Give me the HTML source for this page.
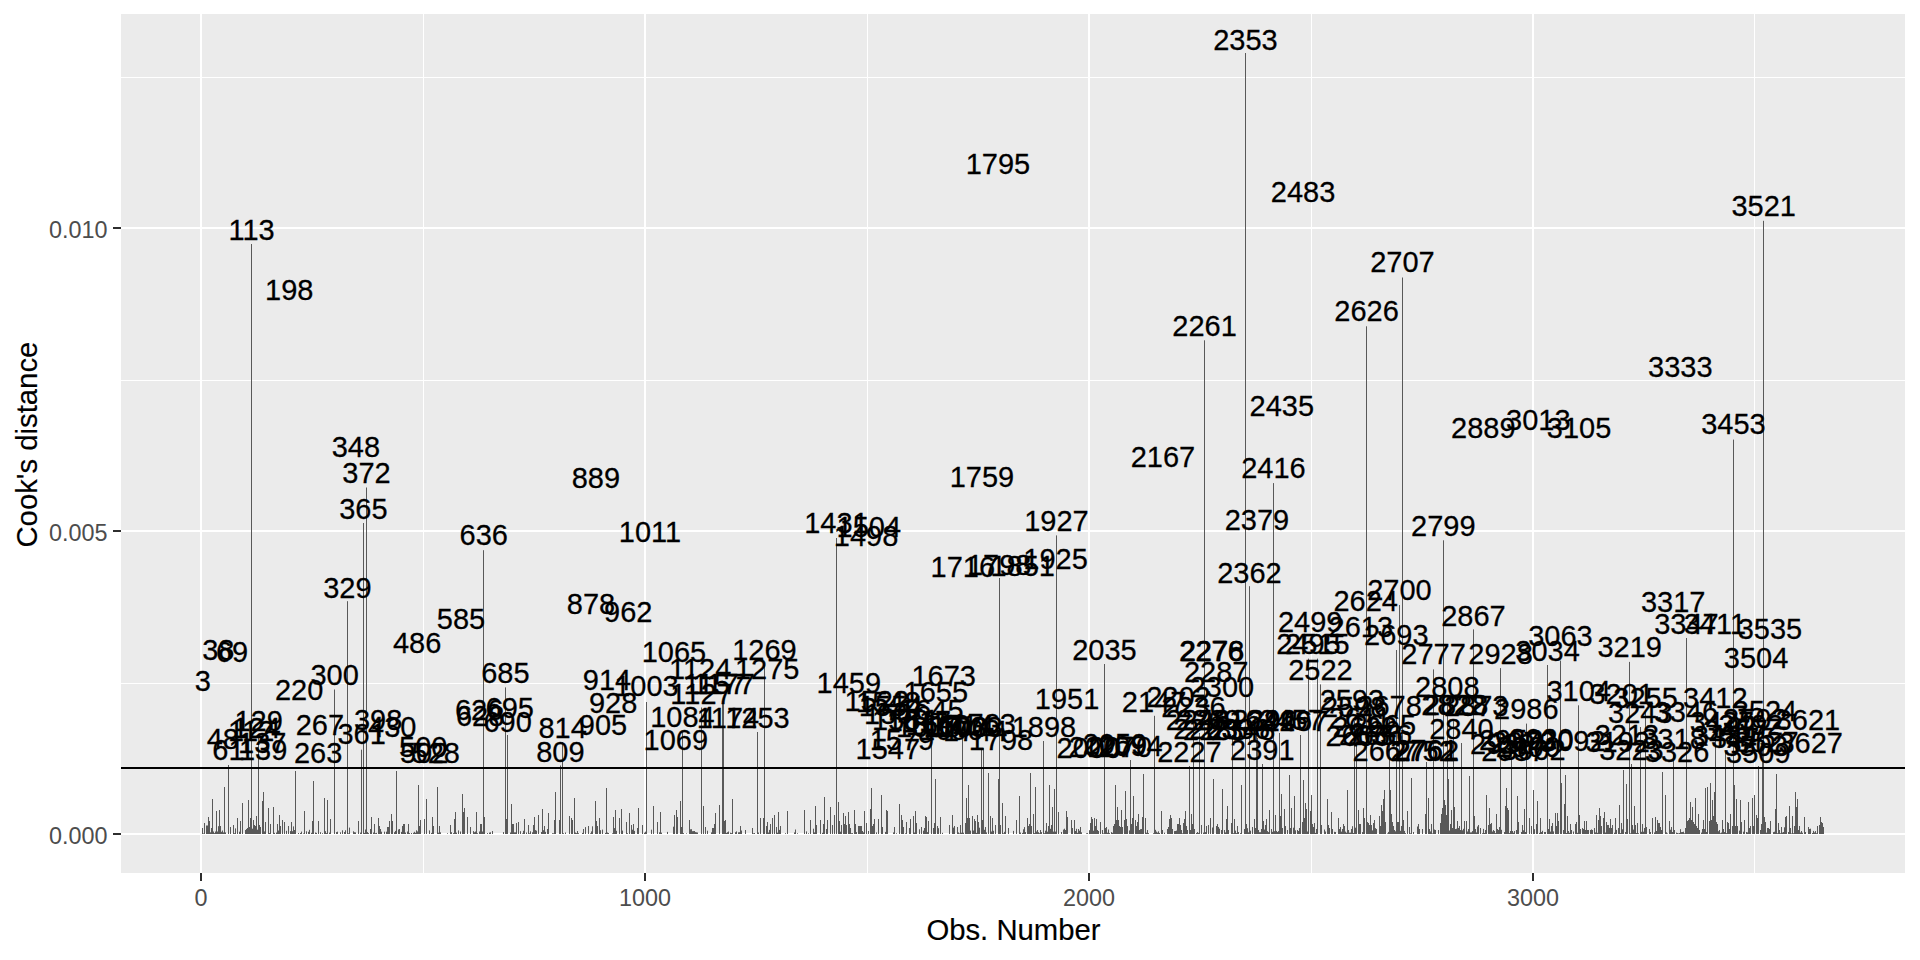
<!DOCTYPE html>
<html><head><meta charset="utf-8"><title>Cook's distance</title>
<style>html,body{margin:0;padding:0;background:#fff;}svg{display:block;}text{font-family:"Liberation Sans",sans-serif;}</style></head><body>
<svg width="1920" height="960" viewBox="0 0 1920 960">
<rect x="0" y="0" width="1920" height="960" fill="#FFFFFF"/>
<rect x="121" y="14" width="1784" height="859" fill="#EBEBEB"/>
<line x1="121" x2="1905" y1="77.5" y2="77.5" stroke="#FFFFFF" stroke-width="1"/>
<line x1="121" x2="1905" y1="380.5" y2="380.5" stroke="#FFFFFF" stroke-width="1"/>
<line x1="121" x2="1905" y1="683.5" y2="683.5" stroke="#FFFFFF" stroke-width="1"/>
<line y1="14" y2="873" x1="423.5" x2="423.5" stroke="#FFFFFF" stroke-width="1"/>
<line y1="14" y2="873" x1="867.5" x2="867.5" stroke="#FFFFFF" stroke-width="1"/>
<line y1="14" y2="873" x1="1311.5" x2="1311.5" stroke="#FFFFFF" stroke-width="1"/>
<line y1="14" y2="873" x1="1754.5" x2="1754.5" stroke="#FFFFFF" stroke-width="1"/>
<line x1="121" x2="1905" y1="834" y2="834" stroke="#FFFFFF" stroke-width="2"/>
<line x1="121" x2="1905" y1="531" y2="531" stroke="#FFFFFF" stroke-width="2"/>
<line x1="121" x2="1905" y1="228" y2="228" stroke="#FFFFFF" stroke-width="2"/>
<line y1="14" y2="873" x1="201" x2="201" stroke="#FFFFFF" stroke-width="2"/>
<line y1="14" y2="873" x1="645" x2="645" stroke="#FFFFFF" stroke-width="2"/>
<line y1="14" y2="873" x1="1089" x2="1089" stroke="#FFFFFF" stroke-width="2"/>
<line y1="14" y2="873" x1="1533" x2="1533" stroke="#FFFFFF" stroke-width="2"/>
<path d="M251 244.0V834.0 M334 689.5V834.0 M347 601.2V834.0 M361 749.7V834.0 M363 523.0V834.0 M366 487.5V834.0 M228 765.0V834.0 M258 735.0V834.0 M483 550.2V834.0 M505 687.4V834.0 M507 735.0V834.0 M562 742.0V834.0 M560 765.5V834.0 M646 702.0V834.0 M682 731.0V834.0 M701 707.5V834.0 M723 698.0V834.0 M757 732.0V834.0 M764 664.6V834.0 M836 538.0V834.0 M931 722.0V834.0 M962 735.0V834.0 M999 578.0V834.0 M1043 741.0V834.0 M1056 535.4V834.0 M1104 664.0V834.0 M1130 760.0V834.0 M1154 715.8V834.0 M1204 340.3V834.0 M1245 53.0V834.0 M1249 586.2V834.0 M1273 483.1V834.0 M1366 326.3V834.0 M1399 605.0V834.0 M1396 650.0V834.0 M1402 277.5V834.0 M1443 540.3V834.0 M1433 669.4V834.0 M1473 629.4V834.0 M1500 668.1V834.0 M1547 665.0V834.0 M1560 660.6V834.0 M1629 661.9V834.0 M1686 638.0V834.0 M1733 439.6V834.0 M1763 220.8V834.0 M1193 722.0V834.0 M1279 733.0V834.0 M1308 658.6V834.0 M1317 658.6V834.0 M1320 684.4V834.0 M1354 721.0V834.0 M1356 726.0V834.0 M1389 720.0V834.0 M1426 762.0V834.0 M1447 701.8V834.0 M1461 743.0V834.0 M1453 719.0V834.0 M1511 754.0V834.0 M1526 723.6V834.0 M1578 705.3V834.0 M1640 727.0V834.0 M1645 712.0V834.0 M1673 753.0V834.0 M1715 712.0V834.0 M1725 750.0V834.0 M1758 766.0V834.0 M1262 764.0V834.0 M983 748.0V834.0 M1189 766.0V834.0 M1256 735.0V834.0 M1232 735.0V834.0 M1300 735.0V834.0 M1199 733.0V834.0 M722 703.0V834.0 M981 748.0V834.0 M1631 764.0V834.0 M1762 745.0V834.0 M1257 738.0V834.0 M212 799.0V834.0 M216 811.0V834.0 M219 810.0V834.0 M224 787.0V834.0 M242 803.0V834.0 M248 800.0V834.0 M262 801.0V834.0 M263 792.0V834.0 M268 808.0V834.0 M273 807.0V834.0 M295 771.0V834.0 M304 811.0V834.0 M313 781.0V834.0 M324 798.0V834.0 M327 800.0V834.0 M208 817.0V834.0 M237 818.0V834.0 M250 818.0V834.0 M256 816.0V834.0 M279 815.0V834.0 M282 820.0V834.0 M312 821.0V834.0 M318 821.0V834.0 M330 819.0V834.0 M358 821.0V834.0 M202 828.0V834.0 M204 823.0V834.0 M206 825.5V834.0 M207 825.5V834.0 M209 821.0V834.0 M211 828.0V834.0 M233 827.0V834.0 M233 825.0V834.0 M240 821.0V834.0 M254 825.0V834.0 M259 825.0V834.0 M260 827.0V834.0 M265 822.0V834.0 M270 824.0V834.0 M277 824.0V834.0 M284 822.0V834.0 M288 826.0V834.0 M291 822.0V834.0 M245 830.0V834.0 M246 829.0V834.0 M247 828.0V834.0 M249 827.0V834.0 M251 818.0V834.0 M253 820.0V834.0 M255 826.0V834.0 M396 771.0V834.0 M418 785.0V834.0 M426 799.0V834.0 M437 787.0V834.0 M455 812.0V834.0 M462 794.0V834.0 M464 808.0V834.0 M476 812.0V834.0 M511 804.0V834.0 M371 817.0V834.0 M374 824.0V834.0 M378 818.0V834.0 M389 821.0V834.0 M391 814.0V834.0 M392 821.0V834.0 M403 824.0V834.0 M404 824.0V834.0 M402 826.0V834.0 M408 824.0V834.0 M420 820.0V834.0 M424 819.0V834.0 M432 817.0V834.0 M433 826.0V834.0 M450 825.0V834.0 M454 819.0V834.0 M463 812.0V834.0 M467 817.0V834.0 M480 824.0V834.0 M481 824.0V834.0 M484 817.0V834.0 M506 819.0V834.0 M512 824.0V834.0 M513 824.0V834.0 M516 823.0V834.0 M518 822.0V834.0 M370 829.0V834.0 M387 827.0V834.0 M388 827.0V834.0 M399 829.0V834.0 M524 819.0V834.0 M528 825.0V834.0 M534 817.0V834.0 M533 825.0V834.0 M538 815.0V834.0 M542 809.0V834.0 M548 813.0V834.0 M555 792.0V834.0 M554 820.0V834.0 M559 820.0V834.0 M569 816.0V834.0 M571 818.0V834.0 M572 820.0V834.0 M574 798.0V834.0 M595 801.0V834.0 M596 821.0V834.0 M597 826.0V834.0 M599 818.0V834.0 M606 788.0V834.0 M613 817.0V834.0 M615 810.0V834.0 M619 818.0V834.0 M621 809.0V834.0 M626 822.0V834.0 M629 813.0V834.0 M631 825.0V834.0 M633 824.0V834.0 M638 808.0V834.0 M637 828.0V834.0 M642 825.0V834.0 M653 806.0V834.0 M657 822.0V834.0 M660 812.0V834.0 M674 815.0V834.0 M676 810.0V834.0 M677 817.0V834.0 M548 828.0V834.0 M547 829.0V834.0 M680 801.0V834.0 M681 827.0V834.0 M689 820.0V834.0 M703 806.0V834.0 M705 827.0V834.0 M715 813.0V834.0 M714 824.0V834.0 M719 805.0V834.0 M725 820.0V834.0 M724 821.0V834.0 M732 799.0V834.0 M740 826.0V834.0 M752 828.0V834.0 M760 818.0V834.0 M763 818.0V834.0 M767 822.0V834.0 M766 826.0V834.0 M770 824.0V834.0 M772 818.0V834.0 M774 815.0V834.0 M776 827.0V834.0 M778 812.0V834.0 M787 811.0V834.0 M804 810.0V834.0 M810 820.0V834.0 M815 806.0V834.0 M816 825.0V834.0 M820 820.0V834.0 M824 797.0V834.0 M823 824.0V834.0 M827 820.0V834.0 M830 807.0V834.0 M832 825.0V834.0 M834 815.0V834.0 M838 802.0V834.0 M839 821.0V834.0 M712 828.0V834.0 M713 828.0V834.0 M841 825.0V834.0 M843 813.0V834.0 M844 824.0V834.0 M845 816.0V834.0 M846 825.0V834.0 M848 812.0V834.0 M849 824.0V834.0 M850 828.0V834.0 M854 810.0V834.0 M855 824.0V834.0 M858 826.0V834.0 M859 826.0V834.0 M860 826.0V834.0 M861 826.0V834.0 M864 811.0V834.0 M866 823.0V834.0 M870 809.0V834.0 M871 788.0V834.0 M873 824.0V834.0 M874 819.0V834.0 M878 819.0V834.0 M881 795.0V834.0 M882 827.0V834.0 M886 810.0V834.0 M887 811.0V834.0 M894 827.0V834.0 M899 804.0V834.0 M901 815.0V834.0 M902 820.0V834.0 M903 827.0V834.0 M906 822.0V834.0 M909 828.0V834.0 M910 819.0V834.0 M913 816.0V834.0 M915 811.0V834.0 M916 823.0V834.0 M921 827.0V834.0 M924 828.0V834.0 M925 816.0V834.0 M926 817.0V834.0 M928 821.0V834.0 M934 823.0V834.0 M935 779.0V834.0 M937 826.0V834.0 M940 817.0V834.0 M949 825.0V834.0 M952 815.0V834.0 M957 827.0V834.0 M960 825.0V834.0 M965 823.0V834.0 M966 798.0V834.0 M967 818.0V834.0 M968 785.0V834.0 M969 818.0V834.0 M972 816.0V834.0 M974 819.0V834.0 M975 821.0V834.0 M977 815.0V834.0 M978 822.0V834.0 M982 820.0V834.0 M985 827.0V834.0 M988 773.0V834.0 M990 816.0V834.0 M992 818.0V834.0 M995 825.0V834.0 M998 779.0V834.0 M1000 825.0V834.0 M1002 803.0V834.0 M1005 816.0V834.0 M1008 828.0V834.0 M1016 820.0V834.0 M1019 796.0V834.0 M1027 818.0V834.0 M1028 826.0V834.0 M1029 824.0V834.0 M1030 773.0V834.0 M1031 826.0V834.0 M1033 814.0V834.0 M1035 787.0V834.0 M1037 830.0V834.0 M1040 830.0V834.0 M1046 823.0V834.0 M1048 826.0V834.0 M1049 785.0V834.0 M1051 825.0V834.0 M1052 807.0V834.0 M1054 789.0V834.0 M1058 812.0V834.0 M1061 832.0V834.0 M1065 830.0V834.0 M1066 811.0V834.0 M1067 817.0V834.0 M1071 820.0V834.0 M1072 828.0V834.0 M1074 820.0V834.0 M1075 831.0V834.0 M1078 829.0V834.0 M1080 827.0V834.0 M1090 823.0V834.0 M1091 817.0V834.0 M1092 819.0V834.0 M1094 818.0V834.0 M1095 826.0V834.0 M1096 819.0V834.0 M1097 830.0V834.0 M1100 822.0V834.0 M1102 830.0V834.0 M1106 827.0V834.0 M1113 826.0V834.0 M1114 824.0V834.0 M1115 785.0V834.0 M1116 820.0V834.0 M1117 807.0V834.0 M1118 820.0V834.0 M1119 826.0V834.0 M1120 827.0V834.0 M1121 810.0V834.0 M1122 827.0V834.0 M1124 820.0V834.0 M1125 791.0V834.0 M1126 819.0V834.0 M1127 826.0V834.0 M1131 824.0V834.0 M1132 818.0V834.0 M1133 796.0V834.0 M1135 820.0V834.0 M1137 822.0V834.0 M1138 814.0V834.0 M1139 830.0V834.0 M1141 829.0V834.0 M1142 817.0V834.0 M1143 774.0V834.0 M1145 818.0V834.0 M1147 830.0V834.0 M1161 811.0V834.0 M1162 830.0V834.0 M1167 829.0V834.0 M1168 827.0V834.0 M1169 819.0V834.0 M1170 815.0V834.0 M1171 818.0V834.0 M1172 829.0V834.0 M1175 831.0V834.0 M1177 824.0V834.0 M1178 824.0V834.0 M1179 818.0V834.0 M1180 825.0V834.0 M1181 830.0V834.0 M1183 823.0V834.0 M1184 819.0V834.0 M1185 811.0V834.0 M1186 826.0V834.0 M1187 830.0V834.0 M1189 766.0V834.0 M1190 830.0V834.0 M1191 814.0V834.0 M1192 824.0V834.0 M1194 829.0V834.0 M1197 832.0V834.0 M1201 825.0V834.0 M1206 826.0V834.0 M1208 825.0V834.0 M1210 818.0V834.0 M1213 779.0V834.0 M1216 826.0V834.0 M1217 824.0V834.0 M1218 827.0V834.0 M1221 830.0V834.0 M1222 789.0V834.0 M1224 830.0V834.0 M1226 819.0V834.0 M1227 806.0V834.0 M1228 830.0V834.0 M1231 823.0V834.0 M1234 819.0V834.0 M1237 826.0V834.0 M1241 785.0V834.0 M1244 829.0V834.0 M1246 824.0V834.0 M1252 827.0V834.0 M1254 819.0V834.0 M1255 828.0V834.0 M1258 830.0V834.0 M1261 829.0V834.0 M1263 821.0V834.0 M1265 825.0V834.0 M1266 819.0V834.0 M1269 810.0V834.0 M1271 829.0V834.0 M1275 815.0V834.0 M1277 832.0V834.0 M1280 816.0V834.0 M1281 794.0V834.0 M1282 828.0V834.0 M1284 809.0V834.0 M1287 830.0V834.0 M1289 775.0V834.0 M1290 828.0V834.0 M1291 808.0V834.0 M1294 796.0V834.0 M1297 830.0V834.0 M1299 828.0V834.0 M1302 822.0V834.0 M1303 780.0V834.0 M1304 818.0V834.0 M1305 803.0V834.0 M1306 809.0V834.0 M1310 811.0V834.0 M1311 795.0V834.0 M1312 824.0V834.0 M1313 827.0V834.0 M1314 823.0V834.0 M1316 829.0V834.0 M1321 825.0V834.0 M1327 799.0V834.0 M1328 825.0V834.0 M1329 828.0V834.0 M1331 812.0V834.0 M1332 829.0V834.0 M1335 832.0V834.0 M1338 818.0V834.0 M1339 829.0V834.0 M1340 827.0V834.0 M1342 829.0V834.0 M1343 824.0V834.0 M1347 790.0V834.0 M1348 830.0V834.0 M1351 829.0V834.0 M1358 810.0V834.0 M1359 824.0V834.0 M1360 824.0V834.0 M1363 808.0V834.0 M1364 818.0V834.0 M1367 822.0V834.0 M1368 823.0V834.0 M1369 825.0V834.0 M1370 815.0V834.0 M1371 825.0V834.0 M1373 823.0V834.0 M1374 820.0V834.0 M1376 829.0V834.0 M1379 816.0V834.0 M1380 826.0V834.0 M1381 805.0V834.0 M1382 811.0V834.0 M1383 799.0V834.0 M1384 790.0V834.0 M1385 822.0V834.0 M1390 790.0V834.0 M1391 814.0V834.0 M1392 822.0V834.0 M1393 826.0V834.0 M1394 830.0V834.0 M1397 822.0V834.0 M1398 822.0V834.0 M1401 826.0V834.0 M1403 820.0V834.0 M1407 811.0V834.0 M1409 827.0V834.0 M1411 778.0V834.0 M1413 832.0V834.0 M1418 824.0V834.0 M1419 829.0V834.0 M1422 829.0V834.0 M1425 814.0V834.0 M1428 798.0V834.0 M1429 829.0V834.0 M1431 824.0V834.0 M1435 830.0V834.0 M1438 830.0V834.0 M1440 823.0V834.0 M1441 814.0V834.0 M1442 808.0V834.0 M1444 800.0V834.0 M1445 805.0V834.0 M1446 815.0V834.0 M1448 779.0V834.0 M1450 824.0V834.0 M1451 810.0V834.0 M1452 828.0V834.0 M1454 807.0V834.0 M1455 829.0V834.0 M1457 821.0V834.0 M1458 828.0V834.0 M1460 830.0V834.0 M1464 821.0V834.0 M1466 821.0V834.0 M1468 829.0V834.0 M1469 776.0V834.0 M1474 816.0V834.0 M1475 829.0V834.0 M1478 825.0V834.0 M1480 828.0V834.0 M1485 830.0V834.0 M1486 795.0V834.0 M1488 825.0V834.0 M1489 808.0V834.0 M1490 824.0V834.0 M1491 823.0V834.0 M1493 830.0V834.0 M1494 831.0V834.0 M1496 814.0V834.0 M1497 829.0V834.0 M1498 830.0V834.0 M1499 827.0V834.0 M1504 832.0V834.0 M1505 806.0V834.0 M1506 788.0V834.0 M1507 808.0V834.0 M1508 810.0V834.0 M1512 831.0V834.0 M1514 831.0V834.0 M1516 830.0V834.0 M1517 796.0V834.0 M1518 822.0V834.0 M1521 832.0V834.0 M1522 825.0V834.0 M1524 809.0V834.0 M1525 832.0V834.0 M1529 818.0V834.0 M1531 826.0V834.0 M1533 790.0V834.0 M1536 824.0V834.0 M1536 824.0V834.0 M1537 801.0V834.0 M1540 818.0V834.0 M1541 832.0V834.0 M1545 832.0V834.0 M1548 829.0V834.0 M1549 819.0V834.0 M1551 826.0V834.0 M1552 823.0V834.0 M1555 813.0V834.0 M1556 826.0V834.0 M1557 813.0V834.0 M1558 821.0V834.0 M1561 783.0V834.0 M1563 830.0V834.0 M1564 804.0V834.0 M1565 775.0V834.0 M1567 816.0V834.0 M1568 831.0V834.0 M1570 824.0V834.0 M1571 830.0V834.0 M1575 824.0V834.0 M1576 822.0V834.0 M1579 815.0V834.0 M1580 829.0V834.0 M1582 828.0V834.0 M1583 829.0V834.0 M1584 821.0V834.0 M1585 830.0V834.0 M1586 821.0V834.0 M1587 830.0V834.0 M1588 830.0V834.0 M1590 830.0V834.0 M1592 830.0V834.0 M1594 828.0V834.0 M1596 815.0V834.0 M1598 820.0V834.0 M1599 808.0V834.0 M1600 816.0V834.0 M1601 826.0V834.0 M1603 818.0V834.0 M1604 812.0V834.0 M1606 822.0V834.0 M1607 825.0V834.0 M1608 825.0V834.0 M1610 819.0V834.0 M1611 828.0V834.0 M1612 825.0V834.0 M1615 818.0V834.0 M1618 828.0V834.0 M1619 805.0V834.0 M1621 823.0V834.0 M1623 770.0V834.0 M1625 832.0V834.0 M1626 784.0V834.0 M1627 819.0V834.0 M1632 825.0V834.0 M1634 806.0V834.0 M1635 825.0V834.0 M1637 823.0V834.0 M1640 827.0V834.0 M1642 824.0V834.0 M1644 828.0V834.0 M1649 829.0V834.0 M1650 832.0V834.0 M1652 818.0V834.0 M1655 817.0V834.0 M1656 831.0V834.0 M1657 820.0V834.0 M1658 823.0V834.0 M1659 823.0V834.0 M1660 827.0V834.0 M1661 830.0V834.0 M1662 772.0V834.0 M1665 795.0V834.0 M1669 821.0V834.0 M1671 827.0V834.0 M1674 830.0V834.0 M1677 833.0V834.0 M1679 833.0V834.0 M1682 832.0V834.0 M1685 828.0V834.0 M1687 821.0V834.0 M1688 820.0V834.0 M1689 818.0V834.0 M1690 802.0V834.0 M1691 820.0V834.0 M1692 807.0V834.0 M1693 822.0V834.0 M1694 824.0V834.0 M1695 798.0V834.0 M1697 828.0V834.0 M1698 814.0V834.0 M1699 830.0V834.0 M1702 829.0V834.0 M1703 820.0V834.0 M1704 829.0V834.0 M1705 788.0V834.0 M1706 832.0V834.0 M1707 787.0V834.0 M1709 821.0V834.0 M1710 783.0V834.0 M1711 820.0V834.0 M1712 800.0V834.0 M1713 816.0V834.0 M1714 792.0V834.0 M1716 822.0V834.0 M1717 824.0V834.0 M1719 830.0V834.0 M1722 820.0V834.0 M1723 829.0V834.0 M1727 822.0V834.0 M1728 823.0V834.0 M1729 829.0V834.0 M1730 814.0V834.0 M1732 826.0V834.0 M1734 785.0V834.0 M1735 826.0V834.0 M1736 799.0V834.0 M1737 826.0V834.0 M1740 800.0V834.0 M1741 822.0V834.0 M1744 820.0V834.0 M1748 802.0V834.0 M1749 828.0V834.0 M1750 826.0V834.0 M1752 798.0V834.0 M1753 826.0V834.0 M1754 795.0V834.0 M1756 815.0V834.0 M1757 818.0V834.0 M1760 830.0V834.0 M1761 824.0V834.0 M1764 817.0V834.0 M1765 822.0V834.0 M1767 828.0V834.0 M1768 828.0V834.0 M1769 829.0V834.0 M1770 821.0V834.0 M1775 809.0V834.0 M1776 774.0V834.0 M1778 823.0V834.0 M1779 830.0V834.0 M1781 827.0V834.0 M1783 832.0V834.0 M1785 817.0V834.0 M1786 816.0V834.0 M1788 832.0V834.0 M1789 806.0V834.0 M1792 816.0V834.0 M1795 792.0V834.0 M1796 807.0V834.0 M1797 799.0V834.0 M1798 830.0V834.0 M1801 831.0V834.0 M1804 817.0V834.0 M1805 832.0V834.0 M1808 827.0V834.0 M1809 829.0V834.0 M1812 833.0V834.0 M1817 826.0V834.0 M1819 825.0V834.0 M1820 817.0V834.0 M1821 822.0V834.0 M1822 823.0V834.0 M1823 827.0V834.0 M203 833.4V834.0 M210 832.3V834.0 M213 831.5V834.0 M214 833.1V834.0 M215 831.5V834.0 M217 831.5V834.0 M218 826.2V834.0 M220 826.0V834.0 M221 831.8V834.0 M222 830.5V834.0 M223 832.4V834.0 M225 832.4V834.0 M230 827.0V834.0 M234 833.2V834.0 M235 828.4V834.0 M239 831.7V834.0 M252 828.7V834.0 M257 829.7V834.0 M264 831.4V834.0 M269 833.0V834.0 M274 832.8V834.0 M276 832.5V834.0 M278 830.5V834.0 M280 826.0V834.0 M286 830.8V834.0 M290 831.1V834.0 M292 831.2V834.0 M293 826.4V834.0 M294 830.0V834.0 M298 833.0V834.0 M300 833.0V834.0 M301 831.6V834.0 M303 833.4V834.0 M306 831.3V834.0 M308 831.8V834.0 M309 829.8V834.0 M311 832.8V834.0 M315 832.5V834.0 M316 832.9V834.0 M320 832.2V834.0 M322 833.2V834.0 M325 831.2V834.0 M326 833.1V834.0 M329 832.6V834.0 M336 832.1V834.0 M337 831.7V834.0 M340 832.3V834.0 M342 830.3V834.0 M344 832.0V834.0 M345 830.3V834.0 M348 833.3V834.0 M349 827.6V834.0 M353 831.3V834.0 M354 832.2V834.0 M355 832.4V834.0 M360 832.6V834.0 M364 832.9V834.0 M365 829.5V834.0 M367 832.1V834.0 M368 833.1V834.0 M373 832.5V834.0 M375 833.2V834.0 M376 832.9V834.0 M379 826.0V834.0 M380 829.0V834.0 M381 831.7V834.0 M384 831.7V834.0 M386 831.7V834.0 M394 832.2V834.0 M395 830.9V834.0 M398 829.5V834.0 M401 831.9V834.0 M405 832.5V834.0 M407 831.5V834.0 M409 833.1V834.0 M411 833.0V834.0 M413 832.8V834.0 M414 831.8V834.0 M415 832.8V834.0 M416 830.3V834.0 M417 831.4V834.0 M419 826.0V834.0 M429 830.4V834.0 M431 832.9V834.0 M438 832.7V834.0 M439 826.0V834.0 M440 832.3V834.0 M447 833.3V834.0 M451 832.2V834.0 M453 833.1V834.0 M456 832.6V834.0 M458 830.4V834.0 M460 831.5V834.0 M470 827.0V834.0 M473 831.1V834.0 M474 832.2V834.0 M475 831.5V834.0 M477 833.2V834.0 M479 831.5V834.0 M482 831.5V834.0 M487 833.1V834.0 M489 832.6V834.0 M490 832.3V834.0 M492 831.0V834.0 M503 832.1V834.0 M510 832.5V834.0 M514 832.3V834.0 M515 832.3V834.0 M520 831.2V834.0 M522 833.4V834.0 M523 830.8V834.0 M526 832.5V834.0 M529 833.3V834.0 M530 831.3V834.0 M532 832.3V834.0 M535 830.1V834.0 M536 830.7V834.0 M541 832.0V834.0 M543 830.2V834.0 M544 826.0V834.0 M545 831.8V834.0 M552 833.2V834.0 M553 833.3V834.0 M563 833.2V834.0 M565 832.5V834.0 M575 832.5V834.0 M576 833.1V834.0 M577 831.0V834.0 M578 833.2V834.0 M582 832.9V834.0 M583 829.0V834.0 M585 827.1V834.0 M588 826.0V834.0 M590 833.3V834.0 M591 831.4V834.0 M592 826.3V834.0 M600 830.2V834.0 M602 829.6V834.0 M605 832.9V834.0 M607 832.5V834.0 M608 833.0V834.0 M612 833.3V834.0 M614 828.1V834.0 M616 830.8V834.0 M622 830.6V834.0 M627 833.2V834.0 M632 829.7V834.0 M634 830.9V834.0 M644 832.7V834.0 M645 831.7V834.0 M651 829.7V834.0 M659 832.3V834.0 M661 832.6V834.0 M667 831.9V834.0 M673 826.7V834.0 M683 833.1V834.0 M686 833.4V834.0 M690 829.3V834.0 M691 829.2V834.0 M692 831.2V834.0 M693 831.1V834.0 M694 831.0V834.0 M695 832.1V834.0 M696 832.3V834.0 M697 832.5V834.0 M707 830.7V834.0 M711 832.4V834.0 M726 832.9V834.0 M727 832.2V834.0 M728 831.5V834.0 M730 832.7V834.0 M731 833.1V834.0 M735 832.2V834.0 M736 831.4V834.0 M738 832.3V834.0 M739 832.2V834.0 M741 830.5V834.0 M745 830.0V834.0 M753 833.3V834.0 M754 833.0V834.0 M758 832.5V834.0 M768 832.5V834.0 M769 829.9V834.0 M777 832.7V834.0 M779 829.9V834.0 M780 826.0V834.0 M785 833.2V834.0 M794 832.4V834.0 M795 829.5V834.0 M797 833.3V834.0 M806 831.4V834.0 M808 833.3V834.0 M813 828.7V834.0 M814 832.4V834.0 M822 832.8V834.0 M826 829.0V834.0 M840 831.7V834.0 M851 833.2V834.0 M852 833.1V834.0 M856 832.1V834.0 M862 831.0V834.0 M863 832.3V834.0 M868 831.0V834.0 M872 826.0V834.0 M876 832.4V834.0 M885 831.9V834.0 M893 832.4V834.0 M896 833.3V834.0 M905 833.3V834.0 M914 832.5V834.0 M919 829.3V834.0 M923 830.7V834.0 M927 832.1V834.0 M933 828.0V834.0 M938 828.2V834.0 M942 832.8V834.0 M953 827.6V834.0 M954 826.0V834.0 M958 832.4V834.0 M959 833.4V834.0 M961 832.7V834.0 M963 832.7V834.0 M970 830.6V834.0 M973 830.5V834.0 M976 832.9V834.0 M979 827.7V834.0 M984 829.8V834.0 M986 832.4V834.0 M991 831.5V834.0 M993 830.8V834.0 M1003 833.3V834.0 M1004 831.8V834.0 M1013 830.9V834.0 M1020 832.5V834.0 M1022 832.9V834.0 M1023 829.3V834.0 M1024 827.1V834.0 M1025 832.1V834.0 M1034 833.1V834.0 M1036 831.5V834.0 M1038 832.2V834.0 M1039 833.2V834.0 M1041 832.1V834.0 M1044 833.2V834.0 M1045 830.7V834.0 M1047 831.7V834.0 M1050 828.8V834.0 M1053 831.6V834.0 M1055 831.6V834.0 M1063 829.6V834.0 M1064 828.7V834.0 M1076 828.8V834.0 M1077 832.8V834.0 M1079 830.7V834.0 M1081 832.3V834.0 M1086 833.3V834.0 M1087 833.1V834.0 M1089 830.2V834.0 M1093 830.7V834.0 M1098 831.0V834.0 M1103 833.4V834.0 M1105 828.0V834.0 M1107 832.7V834.0 M1108 829.5V834.0 M1109 833.1V834.0 M1111 832.1V834.0 M1112 832.8V834.0 M1129 830.4V834.0 M1136 826.0V834.0 M1140 829.2V834.0 M1146 832.7V834.0 M1148 833.1V834.0 M1153 833.2V834.0 M1155 829.8V834.0 M1156 831.6V834.0 M1157 832.6V834.0 M1158 831.3V834.0 M1159 833.0V834.0 M1164 832.7V834.0 M1174 831.1V834.0 M1176 830.6V834.0 M1182 833.3V834.0 M1196 833.0V834.0 M1198 832.9V834.0 M1203 832.6V834.0 M1205 832.1V834.0 M1212 827.5V834.0 M1219 828.7V834.0 M1225 832.4V834.0 M1233 833.2V834.0 M1235 830.6V834.0 M1236 833.1V834.0 M1238 832.0V834.0 M1240 833.1V834.0 M1247 828.2V834.0 M1248 832.3V834.0 M1250 830.7V834.0 M1259 832.2V834.0 M1260 832.2V834.0 M1264 829.5V834.0 M1267 831.1V834.0 M1268 832.1V834.0 M1272 831.8V834.0 M1274 831.2V834.0 M1276 830.9V834.0 M1278 831.1V834.0 M1285 826.0V834.0 M1293 827.7V834.0 M1295 830.3V834.0 M1298 831.0V834.0 M1307 831.5V834.0 M1315 832.9V834.0 M1324 829.5V834.0 M1325 831.5V834.0 M1334 831.8V834.0 M1341 831.6V834.0 M1344 826.0V834.0 M1345 831.6V834.0 M1346 832.7V834.0 M1349 832.7V834.0 M1350 832.6V834.0 M1352 826.2V834.0 M1353 833.0V834.0 M1355 827.7V834.0 M1362 832.1V834.0 M1372 830.4V834.0 M1375 828.1V834.0 M1387 833.4V834.0 M1388 831.9V834.0 M1395 831.3V834.0 M1400 830.8V834.0 M1404 830.9V834.0 M1405 833.1V834.0 M1410 833.3V834.0 M1417 826.5V834.0 M1430 831.4V834.0 M1432 833.4V834.0 M1434 829.5V834.0 M1449 830.5V834.0 M1456 828.7V834.0 M1459 826.0V834.0 M1462 830.3V834.0 M1463 828.8V834.0 M1467 831.5V834.0 M1470 832.4V834.0 M1471 832.3V834.0 M1472 831.1V834.0 M1476 832.4V834.0 M1477 826.5V834.0 M1482 833.2V834.0 M1483 828.9V834.0 M1484 833.0V834.0 M1492 831.5V834.0 M1495 833.1V834.0 M1501 829.8V834.0 M1509 833.1V834.0 M1510 831.0V834.0 M1513 832.7V834.0 M1523 830.3V834.0 M1534 829.2V834.0 M1539 832.9V834.0 M1542 830.8V834.0 M1544 832.0V834.0 M1550 831.6V834.0 M1553 831.4V834.0 M1566 833.0V834.0 M1569 832.8V834.0 M1573 831.5V834.0 M1577 832.8V834.0 M1591 829.4V834.0 M1595 832.4V834.0 M1597 832.8V834.0 M1605 832.5V834.0 M1609 827.9V834.0 M1614 832.7V834.0 M1616 829.9V834.0 M1620 833.1V834.0 M1622 829.3V834.0 M1630 833.3V834.0 M1633 829.6V834.0 M1636 833.0V834.0 M1638 833.2V834.0 M1641 831.8V834.0 M1643 831.7V834.0 M1646 827.0V834.0 M1654 832.4V834.0 M1666 832.3V834.0 M1667 833.4V834.0 M1670 829.7V834.0 M1672 832.0V834.0 M1676 832.6V834.0 M1678 833.4V834.0 M1680 829.2V834.0 M1681 832.1V834.0 M1683 831.7V834.0 M1684 833.3V834.0 M1696 826.0V834.0 M1701 832.6V834.0 M1718 831.2V834.0 M1720 833.2V834.0 M1721 832.5V834.0 M1724 832.0V834.0 M1726 833.1V834.0 M1739 830.6V834.0 M1743 831.7V834.0 M1746 832.0V834.0 M1747 832.4V834.0 M1766 832.6V834.0 M1773 832.1V834.0 M1774 831.7V834.0 M1777 833.2V834.0 M1780 833.2V834.0 M1782 832.5V834.0 M1784 827.3V834.0 M1790 828.0V834.0 M1791 833.4V834.0 M1793 833.2V834.0 M1794 826.0V834.0 M1799 826.0V834.0 M1800 832.5V834.0 M1802 832.7V834.0 M1810 828.7V834.0 M1813 830.9V834.0 M1814 832.4V834.0 M1815 831.1V834.0 M1816 833.2V834.0" stroke="#595959" stroke-width="1" fill="none" transform="translate(0.5,0)"/>
<rect x="121" y="767" width="1784" height="2" fill="#000000"/>
<g font-size="29" fill="#000000" stroke="#000000" stroke-width="0.25" text-anchor="middle" transform="scale(1,1.04)"><text x="202.8" y="664.42">3</text><text x="218.3" y="635.00">38</text><text x="232.1" y="636.44">69</text><text x="251.6" y="231.25">113</text><text x="289.3" y="288.46">198</text><text x="299.1" y="673.37">220</text><text x="334.6" y="658.94">300</text><text x="355.9" y="439.90">348</text><text x="366.5" y="464.52">372</text><text x="363.4" y="499.42">365</text><text x="347.4" y="574.76">329</text><text x="417.1" y="628.17">486</text><text x="461.0" y="605.19">585</text><text x="483.7" y="524.52">636</text><text x="319.9" y="706.73">267</text><text x="318.2" y="733.75">263</text><text x="361.6" y="715.77">361</text><text x="378.1" y="701.73">398</text><text x="392.3" y="708.56">430</text><text x="222.8" y="720.58">48</text><text x="228.5" y="730.77">61</text><text x="258.7" y="702.88">129</text><text x="256.5" y="709.62">124</text><text x="262.3" y="724.04">137</text><text x="263.1" y="730.77">139</text><text x="251.2" y="712.50">112</text><text x="423.3" y="727.88">500</text><text x="424.2" y="733.65">502</text><text x="435.7" y="733.65">528</text><text x="505.4" y="656.73">685</text><text x="509.8" y="690.38">695</text><text x="507.6" y="703.46">690</text><text x="479.2" y="692.60">626</text><text x="480.1" y="697.79">628</text><text x="562.6" y="709.33">814</text><text x="560.4" y="733.17">809</text><text x="603.0" y="707.21">905</text><text x="613.2" y="685.48">928</text><text x="607.0" y="663.94">914</text><text x="591.0" y="590.77">878</text><text x="628.3" y="598.56">962</text><text x="595.9" y="469.33">889</text><text x="650.0" y="521.06">1011</text><text x="674.0" y="636.83">1065</text><text x="764.5" y="634.90">1269</text><text x="700.2" y="653.17">1124</text><text x="767.2" y="653.17">1275</text><text x="646.5" y="669.42">1003</text><text x="714.8" y="666.83">1157</text><text x="723.7" y="666.83">1177</text><text x="701.5" y="676.54">1127</text><text x="682.4" y="699.33">1084</text><text x="728.0" y="700.48">1174</text><text x="757.4" y="700.00">1253</text><text x="675.8" y="720.87">1069</text><text x="836.4" y="512.50">1431</text><text x="868.8" y="516.35">1504</text><text x="866.1" y="525.29">1498</text><text x="962.8" y="554.81">1716</text><text x="999.2" y="552.88">1798</text><text x="1022.7" y="554.33">1851</text><text x="1055.6" y="547.12">1925</text><text x="1056.4" y="510.29">1927</text><text x="981.9" y="468.27">1759</text><text x="997.9" y="167.07">1795</text><text x="848.8" y="666.44">1459</text><text x="943.7" y="659.90">1673</text><text x="935.8" y="674.90">1655</text><text x="876.8" y="684.13">1522</text><text x="888.3" y="684.62">1548</text><text x="890.9" y="688.46">1554</text><text x="896.3" y="696.15">1566</text><text x="931.3" y="692.31">1645</text><text x="904.3" y="701.92">1584</text><text x="918.9" y="702.88">1617</text><text x="928.2" y="708.65">1638</text><text x="938.0" y="706.73">1660</text><text x="951.3" y="711.54">1690</text><text x="955.7" y="708.65">1700</text><text x="961.9" y="706.73">1714</text><text x="970.4" y="708.65">1733</text><text x="975.2" y="712.50">1744</text><text x="983.7" y="705.77">1763</text><text x="902.0" y="720.91">1579</text><text x="887.8" y="729.81">1547</text><text x="1001.0" y="721.15">1798</text><text x="1044.0" y="708.65">1898</text><text x="1067.1" y="681.92">1951</text><text x="1104.4" y="634.62">2035</text><text x="1088.8" y="728.37">2000</text><text x="1100.8" y="727.88">2027</text><text x="1115.0" y="725.00">2059</text><text x="1119.9" y="727.88">2070</text><text x="1130.5" y="726.92">2094</text><text x="1154.1" y="684.33">2147</text><text x="1178.5" y="679.81">2202</text><text x="1189.5" y="733.17">2227</text><text x="1262.3" y="730.77">2391</text><text x="1211.3" y="635.38">2276</text><text x="1212.2" y="635.38">2278</text><text x="1216.2" y="656.25">2287</text><text x="1221.9" y="670.67">2300</text><text x="1193.5" y="689.90">2236</text><text x="1198.0" y="701.92">2246</text><text x="1208.2" y="702.40">2269</text><text x="1229.0" y="701.92">2316</text><text x="1264.5" y="701.92">2396</text><text x="1279.2" y="702.88">2429</text><text x="1291.6" y="701.92">2457</text><text x="1296.0" y="702.88">2467</text><text x="1205.5" y="711.06">2263</text><text x="1215.3" y="711.54">2285</text><text x="1237.9" y="710.58">2336</text><text x="1243.2" y="711.54">2348</text><text x="1204.6" y="322.88">2261</text><text x="1245.4" y="48.08">2353</text><text x="1281.8" y="399.62">2435</text><text x="1303.1" y="194.23">2483</text><text x="1366.6" y="308.94">2626</text><text x="1402.5" y="262.02">2707</text><text x="1162.9" y="448.65">2167</text><text x="1273.4" y="460.00">2416</text><text x="1257.0" y="509.62">2379</text><text x="1249.4" y="560.34">2362</text><text x="1399.4" y="576.92">2700</text><text x="1365.7" y="587.98">2624</text><text x="1310.2" y="607.60">2499</text><text x="1360.8" y="612.12">2613</text><text x="1396.3" y="620.19">2693</text><text x="1308.5" y="629.13">2495</text><text x="1317.3" y="629.13">2515</text><text x="1320.4" y="653.46">2522</text><text x="1433.6" y="638.85">2777</text><text x="1443.3" y="515.00">2799</text><text x="1473.5" y="601.54">2867</text><text x="1483.3" y="421.25">2889</text><text x="1538.3" y="413.17">3013</text><text x="1579.1" y="421.63">3105</text><text x="1680.3" y="362.31">3333</text><text x="1733.5" y="417.50">3453</text><text x="1763.7" y="208.08">3521</text><text x="1500.6" y="638.85">2928</text><text x="1560.5" y="621.39">3063</text><text x="1547.6" y="635.82">3034</text><text x="1629.7" y="632.21">3219</text><text x="1447.3" y="670.67">2808</text><text x="1578.7" y="674.04">3104</text><text x="1621.7" y="676.92">3201</text><text x="1673.2" y="588.70">3317</text><text x="1686.5" y="610.00">3347</text><text x="1714.9" y="609.62">3411</text><text x="1769.9" y="614.18">3535</text><text x="1756.1" y="642.40">3504</text><text x="1715.3" y="680.77">3412</text><text x="1645.6" y="680.77">3255</text><text x="1640.3" y="695.19">3243</text><text x="1686.0" y="694.23">3346</text><text x="1765.0" y="693.75">3524</text><text x="1808.0" y="701.92">3621</text><text x="1810.7" y="723.75">3627</text><text x="1673.6" y="719.95">3318</text><text x="1677.1" y="732.69">3326</text><text x="1631.5" y="730.48">3223</text><text x="1617.7" y="723.08">3192</text><text x="1627.0" y="716.35">3213</text><text x="1351.9" y="682.69">2593</text><text x="1354.2" y="689.42">2598</text><text x="1389.6" y="688.46">2678</text><text x="1456.2" y="687.50">2828</text><text x="1357.7" y="717.31">2606</text><text x="1371.0" y="716.35">2636</text><text x="1379.9" y="716.35">2656</text><text x="1384.8" y="731.73">2667</text><text x="1426.9" y="731.73">2762</text><text x="1422.5" y="731.73">2752</text><text x="1383.9" y="706.73">2665</text><text x="1359.9" y="700.00">2611</text><text x="1364.8" y="708.65">2622</text><text x="1476.2" y="688.08">2873</text><text x="1453.5" y="687.21">2822</text><text x="1526.3" y="691.63">2986</text><text x="1461.5" y="710.38">2840</text><text x="1426.5" y="731.25">2761</text><text x="1502.3" y="725.00">2932</text><text x="1511.2" y="721.15">2952</text><text x="1513.4" y="731.73">2957</text><text x="1523.2" y="723.08">2979</text><text x="1528.1" y="727.88">2990</text><text x="1533.4" y="730.77">3002</text><text x="1573.3" y="722.50">3092</text><text x="1541.4" y="720.19">3020</text><text x="1725.1" y="716.92">3434</text><text x="1735.3" y="711.54">3457</text><text x="1743.3" y="719.23">3475</text><text x="1758.3" y="733.46">3509</text><text x="1766.3" y="723.08">3527</text><text x="1755.7" y="726.92">3503</text><text x="1750.8" y="706.73">3492</text><text x="1722.0" y="703.85">3427</text><text x="1755.2" y="700.96">3502</text></g>
<rect x="113" y="833" width="8" height="2" fill="#2E2E2E"/>
<text x="107.5" y="843.8" text-anchor="end" font-size="23.4" fill="#4D4D4D">0.000</text>
<rect x="113" y="530" width="8" height="2" fill="#2E2E2E"/>
<text x="107.5" y="540.8" text-anchor="end" font-size="23.4" fill="#4D4D4D">0.005</text>
<rect x="113" y="227" width="8" height="2" fill="#2E2E2E"/>
<text x="107.5" y="237.8" text-anchor="end" font-size="23.4" fill="#4D4D4D">0.010</text>
<rect x="200" y="873" width="2" height="8" fill="#2E2E2E"/>
<text x="201" y="906" text-anchor="middle" font-size="23.4" fill="#4D4D4D">0</text>
<rect x="644" y="873" width="2" height="8" fill="#2E2E2E"/>
<text x="645" y="906" text-anchor="middle" font-size="23.4" fill="#4D4D4D">1000</text>
<rect x="1088" y="873" width="2" height="8" fill="#2E2E2E"/>
<text x="1089" y="906" text-anchor="middle" font-size="23.4" fill="#4D4D4D">2000</text>
<rect x="1532" y="873" width="2" height="8" fill="#2E2E2E"/>
<text x="1533" y="906" text-anchor="middle" font-size="23.4" fill="#4D4D4D">3000</text>
<text x="1013.5" y="940" text-anchor="middle" font-size="29.3" fill="#000000" stroke="#000" stroke-width="0.15">Obs. Number</text>
<text transform="translate(37.0,444.6) rotate(-90)" x="0" y="0" text-anchor="middle" font-size="29.3" fill="#000000" stroke="#000" stroke-width="0.15">Cook's distance</text>
</svg></body></html>
